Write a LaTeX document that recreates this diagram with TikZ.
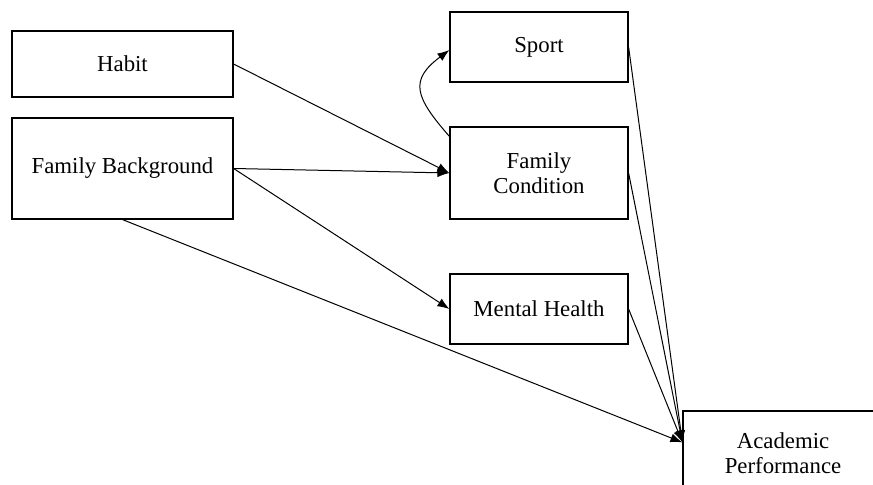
\documentclass[tikz,border=0pt]{standalone}
\usepackage{fontspec}
\setmainfont{Liberation Serif}
\usetikzlibrary{arrows.meta}
\begin{document}
\begin{tikzpicture}[x=0.5pt,y=-0.5pt,
	box/.style={draw,line width=0.6pt,align=center,inner sep=0pt,
		font=\fontsize{11.4}{12.6}\selectfont},
	link/.style={line width=0.5pt,-{Latex[length=6pt,width=4.5pt]}}]
\useasboundingbox (0,0) rectangle (873,485);
\clip (0,0) rectangle (873,485);
% left column
\node (habit) [box,minimum width=110.5pt,minimum height=33pt] at (122.5,64) {Habit};
\node (famback) [box,minimum width=110.5pt,minimum height=50.5pt] at (122.5,168.5) {Family Background};
% middle column
\node (sport) [box,minimum width=89pt,minimum height=35pt] at (539,47) {Sport};
\node (famcond) [box,minimum width=89pt,minimum height=46pt] at (539,173) {Family\\Condition};
\node (mental) [box,minimum width=89pt,minimum height=35pt] at (539,309) {Mental Health};
% outcome, cut off by the page edge
\node (acad) [box,minimum width=100pt,minimum height=42pt] at (783,453) {Academic\\Performance};
\draw [link] (habit.east) -- (famcond.west);
\draw [link] (famback.east) -- (famcond.west);
\draw [link] (famback.east) -- (mental.west);
\draw [link] ([yshift=-5pt]famcond.north west) .. controls +(-35,-40) and +(-40,30) .. ([yshift=-1.5pt]sport.west);
\draw [link] (famback.south) -- (acad.174);
\draw [link] (sport.east) -- (acad.174);
\draw [link] (famcond.east) -- (acad.174);
\draw [link] (mental.east) -- (acad.174);
\end{tikzpicture}
\end{document}
